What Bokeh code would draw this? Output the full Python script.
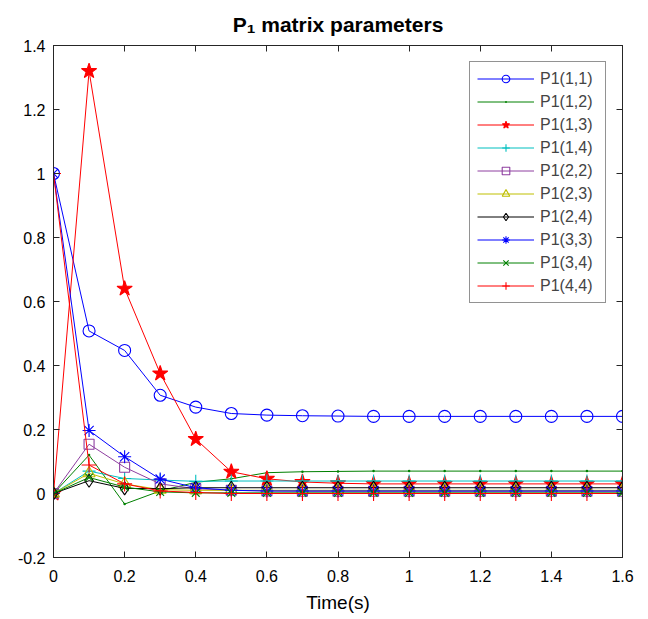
from bokeh.plotting import figure
from bokeh.models import LinearAxis, FixedTicker, Range1d, CustomJSTickFormatter
from bokeh.embed import file_html
from bokeh.resources import INLINE

# ---- data ----
time_s = [0.0, 0.1, 0.2, 0.3, 0.4, 0.5, 0.6, 0.7, 0.8, 0.9, 1.0, 1.1, 1.2, 1.3, 1.4, 1.5, 1.6]

p11 = [1.0, 0.508, 0.447, 0.307, 0.270, 0.250, 0.245, 0.243, 0.242, 0.241, 0.241, 0.241, 0.241, 0.241, 0.241, 0.241, 0.241]
p12 = [0.0, 0.120, -0.033, 0.008, 0.035, 0.046, 0.065, 0.068, 0.069, 0.070, 0.070, 0.070, 0.070, 0.070, 0.070, 0.070, 0.070]
p13 = [0.0, 1.320, 0.640, 0.375, 0.170, 0.068, 0.046, 0.036, 0.032, 0.030, 0.030, 0.030, 0.030, 0.030, 0.030, 0.030, 0.030]
p14 = [0.0, 0.070, 0.047, 0.042, 0.038, 0.039, 0.039, 0.039, 0.039, 0.039, 0.039, 0.039, 0.039, 0.039, 0.039, 0.039, 0.039]
p22 = [0.0, 0.154, 0.082, 0.030, 0.015, 0.010, 0.008, 0.007, 0.007, 0.007, 0.007, 0.007, 0.007, 0.007, 0.007, 0.007, 0.007]
p23 = [0.0, 0.063, 0.030, 0.012, 0.010, 0.010, 0.010, 0.010, 0.010, 0.010, 0.010, 0.010, 0.010, 0.010, 0.010, 0.010, 0.010]
p24 = [0.0, 0.040, 0.016, 0.015, 0.018, 0.018, 0.018, 0.018, 0.018, 0.018, 0.018, 0.018, 0.018, 0.018, 0.018, 0.018, 0.018]
p33 = [1.0, 0.197, 0.115, 0.045, 0.018, 0.010, 0.008, 0.008, 0.008, 0.008, 0.008, 0.008, 0.008, 0.008, 0.008, 0.008, 0.008]
p34 = [0.0, 0.050, 0.020, 0.005, 0.002, 0.002, 0.002, 0.002, 0.002, 0.002, 0.002, 0.002, 0.002, 0.002, 0.002, 0.002, 0.002]
p44 = [1.0, 0.089, 0.030, 0.008, 0.003, 0.000, 0.000, 0.000, 0.000, 0.000, 0.000, 0.000, 0.000, 0.000, 0.000, 0.000, 0.000]

labels = ["P1(1,1)", "P1(1,2)", "P1(1,3)", "P1(1,4)", "P1(2,2)",
          "P1(2,3)", "P1(2,4)", "P1(3,3)", "P1(3,4)", "P1(4,4)"]
series = [p11, p12, p13, p14, p22, p23, p24, p33, p34, p44]

title_text = "P\u2081 matrix parameters"
x_label = "Time(s)"
x_ticks = [0, 0.2, 0.4, 0.6, 0.8, 1.0, 1.2, 1.4, 1.6]
x_tick_labels = ["0", "0.2", "0.4", "0.6", "0.8", "1", "1.2", "1.4", "1.6"]
y_ticks = [-0.2, 0, 0.2, 0.4, 0.6, 0.8, 1.0, 1.2, 1.4]
y_tick_labels = ["-0.2", "0", "0.2", "0.4", "0.6", "0.8", "1", "1.2", "1.4"]

# ---- styles ----
colors = ["#0000FF", "#008000", "#FF0000", "#00BFBF", "#8E3FA0",
          "#BFBF00", "#000000", "#0000FF", "#008000", "#FF0000"]
markers = ["circle", "dot", "star", "cross", "square",
           "triangle", "diamond", "asterisk", "x", "cross"]
sizes = [12, 10, 16, 13, 10, 12, 13, 13, 11, 15]
filled = [False, True, True, False, False, False, False, False, False, False]

FONT = "Liberation Sans"
AXC = "#262626"

p = figure(frame_width=569, frame_height=512,
           x_range=Range1d(0, 1.6), y_range=Range1d(-0.2, 1.4),
           output_backend="svg", toolbar_location=None,
           min_border_left=53, min_border_right=18, min_border_top=45,
           min_border_bottom=40, background_fill_color="white",
           border_fill_color="white")

p.grid.visible = False
p.outline_line_color = AXC
p.outline_line_width = 1

p.title.text = title_text
p.title.align = "center"
p.title.text_font = FONT
p.title.text_font_size = "21px"
p.title.text_font_style = "bold"
p.title.text_color = "black"
p.title.vertical_align = "top"
p.title.standoff = 16

for ax, ticks, lab in ((p.xaxis[0], x_ticks, x_tick_labels), (p.yaxis[0], y_ticks, y_tick_labels)):
    ax.ticker = FixedTicker(ticks=ticks)
    ax.major_label_overrides = {t: l for t, l in zip(ticks, lab)}
    ax.major_tick_in = 6
    ax.major_tick_out = 0
    ax.minor_tick_line_color = None
    ax.axis_line_color = AXC
    ax.major_tick_line_color = AXC
    ax.major_label_text_font = FONT
    ax.major_label_text_font_size = "16px"
    ax.major_label_text_color = "black"

p.xaxis[0].major_label_standoff = 12
p.yaxis[0].major_label_standoff = 8
p.xaxis[0].axis_label = x_label
p.xaxis[0].axis_label_text_font = FONT
p.xaxis[0].axis_label_text_font_size = "19px"
p.xaxis[0].axis_label_text_font_style = "normal"
p.xaxis[0].axis_label_text_color = "black"
p.xaxis[0].axis_label_standoff = 7

# right / top axes: ticks only (box style)
r_ax = LinearAxis(ticker=FixedTicker(ticks=y_ticks), major_tick_in=6, major_tick_out=0,
                  minor_tick_line_color=None, formatter=CustomJSTickFormatter(code="return '';"),
                  axis_line_color=AXC, major_tick_line_color=AXC,
                  major_label_standoff=0)
p.add_layout(r_ax, "right")
t_ax = LinearAxis(ticker=FixedTicker(ticks=x_ticks), major_tick_in=6, major_tick_out=0,
                  minor_tick_line_color=None, formatter=CustomJSTickFormatter(code="return '';"),
                  axis_line_color=AXC, major_tick_line_color=AXC,
                  major_label_standoff=0)
p.add_layout(t_ax, "above")

for lab, ys, col, mk, sz, fl in zip(labels, series, colors, markers, sizes, filled):
    p.line(time_s, ys, line_color=col, line_width=1, legend_label=lab)
    p.scatter(time_s, ys, marker=mk, size=sz, line_color=col, line_width=1.1,
              fill_color=col if fl else None, legend_label=lab)

lg = p.legend[0]
lg.location = (416, 254)
lg.margin = 0
lg.padding = 7
lg.spacing = 4
lg.label_text_font = FONT
lg.label_text_font_size = "16px"
lg.label_height = 19
lg.glyph_height = 19
lg.glyph_width = 57
lg.label_width = 58
lg.label_standoff = 6
lg.border_line_color = AXC
lg.border_line_width = 1
lg.background_fill_alpha = 1

open("out.html", "w").write(file_html(p, INLINE))
